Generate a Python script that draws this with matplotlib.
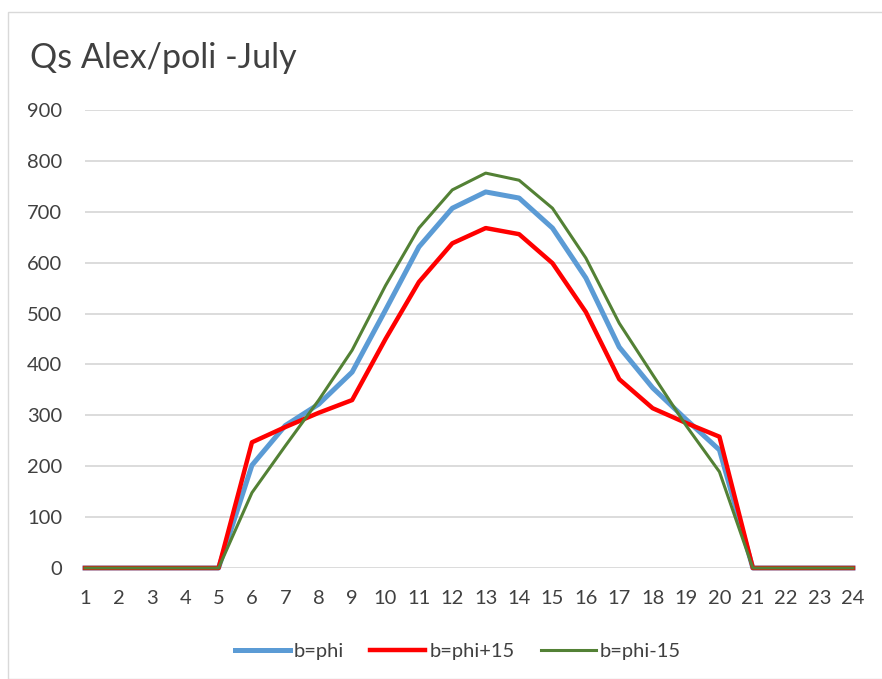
import matplotlib
matplotlib.use("Agg")
import matplotlib.pyplot as plt
from matplotlib.patches import Rectangle

plt.rcParams['font.family'] = ['Lato', 'DejaVu Sans']

# hourly solar gain, July
hours = list(range(1, 25))
b_phi = [0, 0, 0, 0, 0, 202, 280, 322, 385, 507, 631, 707, 739, 727, 668,
         570, 434, 354, 292, 232, 0, 0, 0, 0]
b_phi_p15 = [0, 0, 0, 0, 0, 247, 277, 305, 330, 450, 562, 638, 668, 656, 599,
             503, 371, 314, 285, 258, 0, 0, 0, 0]
b_phi_m15 = [0, 0, 0, 0, 0, 148, 240, 330, 428, 555, 668, 743, 776, 762, 707,
             609, 481, 380, 280, 189, 0, 0, 0, 0]

text_color = '#404040'

fig = plt.figure(figsize=(8.82, 6.79), dpi=100)
ax = fig.add_axes([85 / 882, 1 - 568 / 679, (853 - 85) / 882, (568 - 110) / 679])

# no clipping, so the flat zero stretches are drawn at full width
ax.plot(hours, b_phi, color='#5b9bd5', lw=3.6, label='b=phi',
        solid_joinstyle='round', clip_on=False)
ax.plot(hours, b_phi_p15, color='#ff0000', lw=3.2, label='b=phi+15',
        solid_joinstyle='round', clip_on=False)
ax.plot(hours, b_phi_m15, color='#538135', lw=2.2, label='b=phi-15',
        solid_joinstyle='round', clip_on=False)

ax.set_xlim(1, 24)
ax.set_ylim(0, 900)
ax.set_xticks(hours)
ax.set_yticks(range(0, 901, 100))
ax.grid(axis='y', color='#d9d9d9', lw=1.3)
ax.set_axisbelow(True)
for s in ax.spines.values():
    s.set_visible(False)
ax.tick_params(length=0, labelsize=14.5, labelcolor=text_color)
ax.tick_params(axis='y', pad=16.5)
ax.tick_params(axis='x', pad=16)

fig.text(30 / 882, 1 - 58 / 679, 'Qs Alex/poli -July', fontsize=24.5,
         color=text_color, va='center', ha='left')

leg = fig.legend(loc='center', bbox_to_anchor=(458 / 882, 1 - 651 / 679), ncol=3,
                 frameon=False, fontsize=14.5, handlelength=2.73, columnspacing=1.3,
                 handletextpad=0.2)
for t in leg.get_texts():
    t.set_color(text_color)

fig.patches.append(Rectangle((8 / 882, 0.0), 1.2, 1 - 12 / 679,
                             transform=fig.transFigure, fill=False,
                             edgecolor='#d9d9d9', lw=1.0))

fig.savefig('out.png', dpi=100)
